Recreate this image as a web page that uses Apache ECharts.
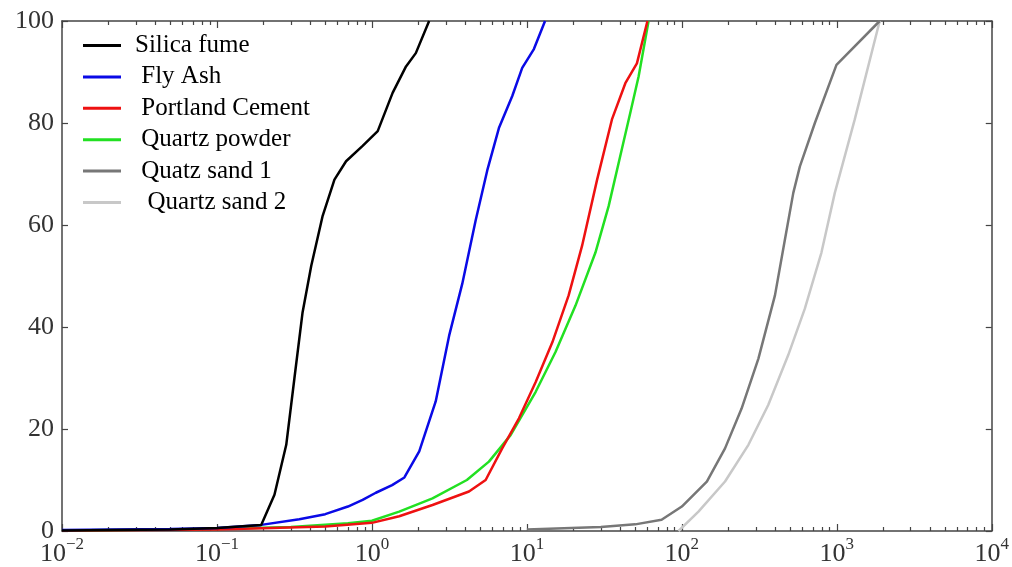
<!DOCTYPE html>
<html>
<head>
<meta charset="utf-8">
<script src="https://cdn.jsdelivr.net/npm/echarts@6/dist/echarts.min.js"></script>
<style>
  html, body { margin: 0; padding: 0; background: #fff; }
  #main { width: 1012px; height: 567px; }
</style>
</head>
<body>
<div id="main"></div>
<script>
// particle size (x, log) vs cumulative passing % (y)
var seriesNames = ['Silica fume', 'Fly Ash', 'Portland Cement', 'Quartz powder', 'Quatz sand 1', 'Quartz sand 2'];
var seriesColors = ['#000000', '#0a0ae6', '#ee1111', '#22e022', '#777777', '#c8c8c8'];

var silicaFume = [[0.01,0.1],[0.05,0.3],[0.1,0.6],[0.193,1.2],[0.235,7.1],[0.28,16.9],[0.316,29.9],[0.357,42.9],[0.406,52],[0.481,61.8],[0.573,68.9],[0.681,72.5],[0.871,75.5],[1.09,78.4],[1.36,85.9],[1.66,91.1],[1.92,93.7],[2.34,100]];
var flyAsh = [[0.01,0.2],[0.05,0.4],[0.1,0.6],[0.193,1.2],[0.34,2.3],[0.5,3.3],[0.7,4.8],[0.871,6.1],[1.06,7.5],[1.35,9.0],[1.62,10.5],[2.02,15.6],[2.58,25.4],[3.15,38.3],[3.83,48.5],[4.67,60.9],[5.55,70.7],[6.6,79],[8.05,85.3],[9.33,90.8],[11.1,94.5],[13.1,100]];
var portlandCement = [[0.01,0.1],[0.1,0.3],[0.5,0.9],[1.0,1.6],[1.5,2.9],[2.46,5.1],[4.23,7.75],[5.42,10.0],[6.93,16.2],[8.89,22.1],[11.4,29.2],[14.6,37.0],[18.6,46.2],[22.7,55.9],[28.4,68.9],[35.4,80.7],[43.2,87.8],[51.3,91.7],[60,100]];
var quartzPowder = [[0.01,0.1],[0.1,0.4],[0.3,0.8],[0.7,1.5],[1.0,2.0],[1.5,3.8],[2.46,6.4],[4.1,10.0],[5.69,13.6],[7.85,18.8],[11.4,27.3],[15.3,35.1],[20.6,44.2],[27.7,54.6],[33.7,63.7],[41.1,75],[46.5,82],[52.6,89.1],[61,100]];
var quartzSand1 = [[10,0.3],[30,0.8],[50,1.3],[74,2.2],[100,4.8],[145,9.7],[190,16.2],[243,24],[312,33.8],[399,46.2],[463,57.2],[524,66.3],[578,71.5],[722,80],[995,91.4],[1892,100]];
var quartzSand2 = [[95.2,0],[128,3.8],[190,9.7],[269,16.9],[361,24.7],[486,34.5],[622,43.6],[796,54.6],[971,66.3],[1306,80.7],[1892,100]];

var yTicks = [0, 20, 40, 60, 80, 100];
var xMajor = [0.01, 0.1, 1, 10, 100, 1000, 10000];

var allData = [silicaFume, flyAsh, portlandCement, quartzPowder, quartzSand1, quartzSand2];

// minor tick positions for the log axis (2..9 in every decade)
var xMinor = [];
for (var d = -2; d < 4; d++) {
  for (var k = 2; k < 10; k++) xMinor.push(k * Math.pow(10, d));
}

var serif = 'Liberation Serif';
var axisColor = '#444';

function logAxis(pos, ticks, len, showLine, showLabel) {
  return {
    type: 'log', logBase: 10, position: pos, min: 0.01, max: 10000,
    axisLine: { show: showLine, onZero: false, lineStyle: { color: axisColor, width: 1.5 } },
    axisTick: { show: true, inside: true, length: len, customValues: ticks, lineStyle: { color: axisColor, width: 1.2 } },
    axisLabel: {
      show: showLabel, customValues: xMajor, margin: 5, color: '#333',
      formatter: function (v) {
        var e = Math.round(Math.log10(v));
        return '{b|10}{s|' + (e < 0 ? '\u2212' + (-e) : e) + '}';
      },
      rich: {
        b: { fontSize: 26, fontFamily: serif, color: '#333', lineHeight: 31, verticalAlign: 'bottom' },
        s: { fontSize: 17, fontFamily: serif, color: '#333', verticalAlign: 'top' }
      }
    },
    splitLine: { show: false },
    minorTick: { show: false },
    minorSplitLine: { show: false }
  };
}

function valAxis(pos, showLabel) {
  return {
    type: 'value', position: pos, min: 0, max: 100, interval: 20,
    axisLine: { show: true, onZero: false, lineStyle: { color: axisColor, width: 1.5 } },
    axisTick: { show: true, inside: true, length: 6, lineStyle: { color: axisColor, width: 1.2 } },
    axisLabel: { show: showLabel, margin: 8, color: '#333', fontSize: 26, fontFamily: serif },
    splitLine: { show: false }
  };
}

var chart = echarts.init(document.getElementById('main'), null, { renderer: 'canvas' });

var series = allData.map(function (d, i) {
  return {
    name: seriesNames[i],
    type: 'line',
    data: d,
    xAxisIndex: 0, yAxisIndex: 0,
    showSymbol: false, symbol: 'none',
    smooth: false,
    z: 10 - i,
    lineStyle: { color: seriesColors[i], width: 2.5 },
    itemStyle: { color: seriesColors[i] }
  };
});

chart.setOption({
  animation: false,
  backgroundColor: '#fff',
  grid: { left: 62, right: 18, top: 21, bottom: 34 },
  legend: {
    orient: 'vertical', left: 78, top: 28,
    icon: 'rect', itemWidth: 38, itemHeight: 3, itemGap: 6.4,
    data: seriesNames,
    formatter: function (n) {
      if (n === 'Quartz sand 2') return '  ' + n;
      if (n === 'Silica fume') return n;
      return ' ' + n;
    },
    textStyle: { fontFamily: serif, fontSize: 25, color: '#000', lineHeight: 24, padding: [0, 0, 0, 9] }
  },
  xAxis: [
    logAxis('bottom', xMajor, 7, true, true),
    logAxis('bottom', xMinor, 4, false, false),
    logAxis('top', xMajor, 7, true, false),
    logAxis('top', xMinor, 4, false, false)
  ],
  yAxis: [valAxis('left', true), valAxis('right', false)],
  series: series
});
</script>
</body>
</html>
